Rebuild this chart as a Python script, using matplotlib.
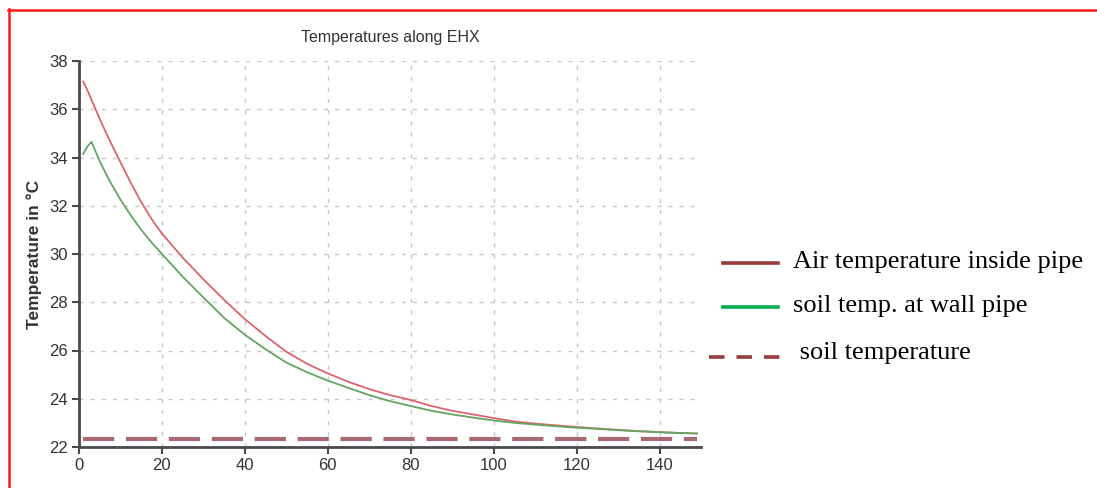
import matplotlib
matplotlib.use("Agg")
import matplotlib.pyplot as plt
from matplotlib.lines import Line2D

# distance along the EHX and temperatures
dist = [1, 2, 3, 4, 5, 7, 10, 12.5, 15, 17.5, 20, 25, 30, 35, 40, 45, 50, 55, 60, 65, 70,
        75, 80, 85, 90, 95, 100, 105, 110, 115, 120, 125, 130, 135, 140, 145, 149]
air_temp = [37.15, 36.8, 36.4, 36.0, 35.6, 34.85, 33.8, 32.95, 32.15, 31.45, 30.85, 29.85,
            28.95, 28.1, 27.3, 26.6, 25.95, 25.45, 25.05, 24.7, 24.4, 24.15, 23.95,
            23.7, 23.5, 23.35, 23.2, 23.06, 22.97, 22.9, 22.83, 22.77, 22.71, 22.66,
            22.62, 22.58, 22.56]
wall_temp = [34.15, 34.45, 34.65, 34.25, 33.85, 33.15, 32.25, 31.6, 31.0, 30.48, 30.0,
             29.06, 28.2, 27.35, 26.65, 26.05, 25.5, 25.1, 24.75, 24.45, 24.15, 23.9,
             23.7, 23.5, 23.35, 23.22, 23.1, 23.0, 22.93, 22.86, 22.8, 22.75, 22.7,
             22.65, 22.61, 22.58, 22.56]
soil_dist = [1, 149]
soil_temp = [22.33, 22.33]

legend_labels = ['Air temperature inside pipe', 'soil temp. at wall pipe',
                 ' soil temperature']

fig = plt.figure(figsize=(10.97, 4.88), dpi=100)
ax = fig.add_axes([79 / 1097, 1 - 447 / 488, 622 / 1097, 386 / 488])

ax.plot(soil_dist, soil_temp, color='#a86a72', lw=3, dashes=(7.5, 2.8))
ax.plot(dist, air_temp, color='#dc6470', lw=1.3)
ax.plot(dist, wall_temp, color='#62a662', lw=1.3)

ax.set_xlim(0, 150)
ax.set_ylim(22, 38)
ax.set_xticks(range(0, 141, 20))
ax.set_yticks(range(22, 39, 2))

ax.grid(True, color='#c8c8c8', lw=1, dashes=(3, 5))
ax.set_axisbelow(True)
for s in ['top', 'right']:
    ax.spines[s].set_visible(False)
for s in ['left', 'bottom']:
    ax.spines[s].set_color('#4a4a4a')
    ax.spines[s].set_linewidth(2)
ax.tick_params(colors='#4a4a4a', labelcolor='#333333', length=5, width=1.5,
               labelsize=12, pad=3)
for lbl in ax.get_xticklabels() + ax.get_yticklabels():
    lbl.set_family('Liberation Sans')

ax.set_title('Temperatures along EHX', fontsize=11.5, color='#333333',
             family='Liberation Sans', pad=14)
ax.set_ylabel('Temperature in °C', fontsize=12.5, fontweight='bold',
              color='#333333', family='Liberation Sans', labelpad=5)

# legend drawn beside the plot, as in the original figure
def fx(px):
    return px / 1097

def fy(py):
    return 1 - py / 488

fig.add_artist(Line2D([fx(723), fx(778)], [fy(263), fy(263)], color='#963c3c', lw=2.6))
fig.add_artist(Line2D([fx(723), fx(778)], [fy(307), fy(307)], color='#00b050', lw=2.6))
fig.add_artist(Line2D([fx(709), fx(780)], [fy(357), fy(357)], color='#963c3c', lw=2.6,
                      dashes=(4.3, 3.3)))
fig.text(fx(793), fy(262), legend_labels[0], family='Liberation Serif', fontsize=19, va='center')
fig.text(fx(793), fy(306), legend_labels[1], family='Liberation Serif', fontsize=19, va='center')
fig.text(fx(793), fy(353), legend_labels[2], family='Liberation Serif', fontsize=19, va='center')

# red frame around the figure (top and left edges visible)
fig.add_artist(Line2D([fx(8), 1], [fy(9.5), fy(9.5)], color='#ff1a1a', lw=1.8))
fig.add_artist(Line2D([fx(8.5), fx(8.5)], [fy(9), 0], color='#ff1a1a', lw=1.8))

fig.savefig('out.png', dpi=100)
